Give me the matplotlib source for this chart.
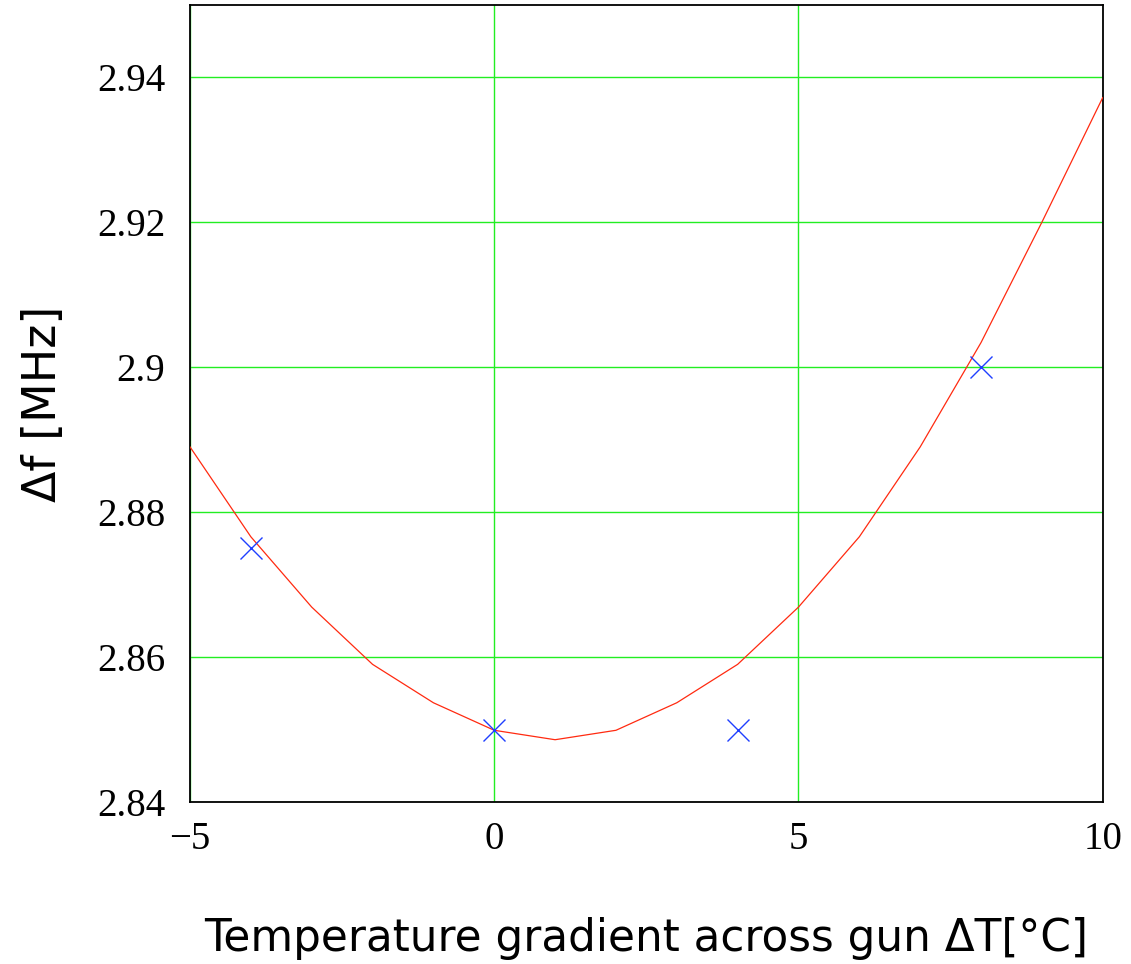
import matplotlib
matplotlib.use('Agg')
import matplotlib.pyplot as plt

# fitted curve (red line)
fit_dT = [-5, -4, -3, -2, -1, 0, 1, 2, 3, 4, 5, 6, 7, 8, 9, 10]
fit_df = [2.8890, 2.8766, 2.8669, 2.8590, 2.8537, 2.8499, 2.8486, 2.8499,
          2.8537, 2.8590, 2.8669, 2.8766, 2.8890, 2.9034, 2.9200, 2.9372]

# measured points (blue crosses)
meas_dT = [-4, 0, 4, 8]
meas_df = [2.875, 2.850, 2.850, 2.900]

x_ticks = [-5, 0, 5, 10]
x_tick_labels = ['\u22125', '0', '5', '10']
y_ticks = [2.84, 2.86, 2.88, 2.90, 2.92, 2.94]
y_tick_labels = ['2.84', '2.86', '2.88', '2.9', '2.92', '2.94']

fig = plt.figure(figsize=(11.31, 9.64), dpi=100)
ax = fig.add_axes([0.168, 0.168, 0.807, 0.827])

ax.plot(fit_dT, fit_df, color='#ff2a10', lw=0.9, zorder=3)
ax.plot(meas_dT, meas_df, linestyle='none', marker='x', color='#1f3fff',
        markersize=16, markeredgewidth=1.0, zorder=4)

ax.set_xlim(-5, 10)
ax.set_ylim(2.84, 2.95)
ax.set_xticks(x_ticks)
ax.set_xticklabels(x_tick_labels)
ax.set_yticks(y_ticks)
ax.set_yticklabels(y_tick_labels)
ax.grid(True, color='#22ee22', lw=1.0)
ax.set_axisbelow(True)

for lab in ax.get_xticklabels() + ax.get_yticklabels():
    lab.set_family('Liberation Serif')
    lab.set_fontsize(28)
ax.tick_params(length=0, pad=14)
ax.tick_params(axis='y', pad=18)

for s in ax.spines.values():
    s.set_color('black')
    s.set_linewidth(1.3)

ax.set_xlabel('Temperature gradient across gun \u0394T[\u00b0C]',
              fontsize=31.5, family='DejaVu Sans', labelpad=42)
ax.set_ylabel('\u0394f [MHz]', fontsize=33, family='DejaVu Sans', labelpad=22)

fig.savefig('out.png', dpi=100)
